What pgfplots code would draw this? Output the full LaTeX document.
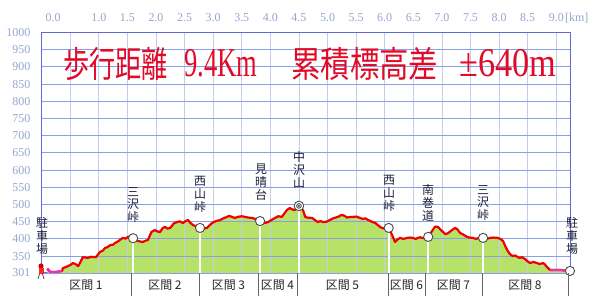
\documentclass[border=0pt]{standalone}
\usepackage{graphicx}
\usepackage{pgfplots}
\pgfplotsset{compat=1.18}
\usepackage{fontspec}
\setmainfont{Liberation Serif}
\newfontfamily\jp{Noto Sans CJK JP}
\definecolor{tickc}{RGB}{150,165,210}
\definecolor{hgrid}{RGB}{135,160,230}
\definecolor{vgrid}{RGB}{195,205,232}
\definecolor{framec}{RGB}{95,105,215}
\definecolor{fillg}{RGB}{183,226,106}
\definecolor{profc}{RGB}{240,0,0}
\definecolor{pinkc}{RGB}{240,50,170}
\definecolor{titlec}{RGB}{225,10,40}
\definecolor{labc}{RGB}{30,30,60}

\pgfplotstableread{
km elev
0.10 314
0.15 304
0.25 304
0.36 307
0.37 315
0.42 318
0.50 324
0.55 330
0.60 326
0.64 321
0.68 333
0.72 347
0.81 345
0.86 348
0.95 347
1.02 362
1.07 366
1.11 374
1.15 376
1.20 382
1.25 383
1.28 388
1.33 392
1.37 397
1.42 403
1.47 401
1.51 406
1.55 407
1.60 402
1.68 394
1.77 391
1.82 395
1.86 397
1.92 420
1.98 426
2.02 422
2.07 420
2.12 432
2.16 435
2.20 430
2.25 432
2.31 445
2.37 449
2.42 451
2.47 446
2.52 452
2.56 455
2.60 447
2.65 440
2.70 437
2.77 432
2.84 430
2.89 432
2.94 440
2.98 446
3.05 452
3.12 455
3.18 460
3.24 464
3.28 467
3.33 464
3.38 461
3.43 464
3.50 466
3.56 464
3.62 462
3.68 461
3.74 458
3.82 452
3.90 446
3.96 449
4.02 455
4.08 461
4.14 466
4.20 464
4.25 475
4.29 484
4.34 490
4.38 486
4.43 484
4.46 490
4.50 496
4.57 484
4.61 464
4.65 462
4.73 461
4.78 455
4.83 449
4.88 452
4.92 449
4.98 450
5.04 455
5.10 460
5.18 464
5.25 470
5.30 467
5.34 462
5.39 464
5.44 464
5.50 465
5.57 461
5.62 458
5.66 460
5.71 455
5.75 452
5.79 449
5.84 446
5.88 440
5.91 436
5.95 432
6.00 430
6.07 432
6.13 411
6.18 391
6.22 398
6.27 403
6.33 400
6.39 403
6.44 404
6.49 403
6.54 400
6.58 403
6.62 405
6.65 403
6.70 402
6.76 406
6.84 426
6.88 436
6.93 435
6.97 428
7.02 420
7.06 414
7.11 417
7.17 425
7.23 432
7.27 428
7.32 417
7.36 414
7.44 406
7.48 404
7.54 403
7.60 400
7.66 404
7.72 403
7.78 400
7.84 403
7.90 404
7.98 403
8.02 400
8.07 394
8.10 382
8.14 368
8.19 356
8.24 350
8.28 352
8.33 347
8.36 345
8.40 347
8.45 342
8.49 336
8.54 330
8.60 333
8.66 330
8.71 327
8.77 330
8.80 326
8.84 318
8.89 310
9.06 310
9.24 307
}\proftab

\pgfplotstableread{
km elev
1.60 402
2.77 432
3.82 452
6.07 432
6.76 406
7.72 403
9.24 307
}\markstab

\begin{document}
\begin{tikzpicture}
\useasboundingbox (0bp,0bp) rectangle (600bp,296bp);
\fill[white] (0bp,0bp) rectangle (600bp,296bp);
\begin{axis}[
  at={(41.6bp,23bp)}, anchor=south west,
  scale only axis, width=528.4bp, height=240.5bp,
  xmin=0, xmax=9.24, ymin=301, ymax=1000,
  xtick={0,0.5,...,9},
  xticklabels={{},{},1.0,1.5,2.0,2.5,3.0,3.5,4.0,4.5,5.0,5.5,6.0,6.5,7.0,7.5,8.0,8.5,9.0},
  extra x ticks={0.2}, extra x tick labels={0.0},
  extra x tick style={grid=none, major tick length=0pt},
  ytick={301,350,400,450,500,550,600,650,700,750,800,850,900,950,1000},
  yticklabels={301,350,400,450,500,550,600,650,700,750,800,850,900,950,1000},
  xticklabel pos=upper,
  major tick length=0pt,
  xmajorgrids, ymajorgrids,
  x grid style={vgrid, line width=0.8bp},
  y grid style={hgrid, line width=0.9bp},
  axis line style={framec, line width=1bp},
  xticklabel style={font=\fontsize{12}{12}\selectfont, text=tickc, inner sep=0pt, anchor=base, yshift=10.5bp},
  yticklabel style={font=\fontsize{12}{12}\selectfont, text=tickc, inner sep=0pt, anchor=east, xshift=-11bp},
]
\addplot[fill=fillg, draw=none] table[x=km,y=elev]{\proftab} \closedcycle;
% grid lines redrawn over the filled area
\addplot[ycomb, vgrid, line width=0.8bp] coordinates {(0.5,500)(1.0,500)(1.5,500)(2.0,500)(2.5,500)(3.0,500)(3.5,500)(4.0,500)(4.5,500)(5.0,500)(5.5,500)(6.0,500)(6.5,500)(7.0,500)(7.5,500)(8.0,500)(8.5,500)(9.0,500)};
\addplot[xcomb, hgrid, line width=0.9bp] coordinates {(9.24,350)(9.24,400)(9.24,450)};
\addplot[ycomb, white, line width=1.8bp] table[x=km,y=elev]{\markstab};
\addplot[ycomb, white, line width=1.8bp] coordinates {(4.50,496)};
\addplot[profc, line width=2.2bp, line join=round] table[x=km,y=elev]{\proftab};
\addplot[pinkc, line width=2.2bp, line join=round] coordinates {(0.10,314)(0.15,304)(0.25,304)(0.36,307)};
\addplot[pinkc, line width=2.2bp, line join=round] coordinates {(8.89,310)(9.06,310)(9.24,307)};
\addplot[only marks, mark=*, mark size=4.6bp, mark options={fill=white, draw=black!70, line width=0.9bp}] table[x=km,y=elev]{\markstab};
\addplot[only marks, mark=*, mark size=4.8bp, mark options={fill=white, draw=black!70, line width=0.9bp}] coordinates {(4.50,496)};
\addplot[only marks, mark=*, mark size=2.3bp, mark options={fill=white, draw=black!70, line width=0.9bp}] coordinates {(4.50,496)};
\addplot[only marks, mark=*, mark size=0.8bp, mark options={fill=black!70, draw=black!70}] coordinates {(4.50,496)};
\end{axis}
% km unit
\node[anchor=base west, text=tickc, inner sep=0pt, font=\fontsize{12}{12}\selectfont] at (565bp,274bp) {[km]};
% title
\tikzset{tpart/.style={anchor=west, text=titlec, inner sep=0pt}}
\node[tpart] at (63bp,232.5bp) {\scalebox{0.73}[1]{\fontsize{36}{36}\selectfont\jp 歩行距離}};
\node[tpart] at (184bp,232.5bp) {\scalebox{0.65}[1]{\fontsize{41}{41}\selectfont 9.4Km}};
\node[tpart] at (291bp,232.5bp) {\scalebox{0.82}[1]{\fontsize{36}{36}\selectfont\jp 累積標高差}};
\node[tpart] at (459bp,232.5bp) {\scalebox{0.84}[1]{\fontsize{41}{41}\selectfont ±640m}};
% vertical labels
\tikzset{vlab/.style={text=labc, align=center, inner sep=0pt, font=\jp\fontsize{12}{13}\selectfont}}
\node[vlab] at (42bp,60bp) {駐\\車\\場};
\node[vlab] at (133bp,91bp) {三\\沢\\峠};
\node[vlab] at (200bp,102bp) {西\\山\\峠};
\node[vlab] at (261bp,114bp) {見\\晴\\台};
\node[vlab] at (299bp,126bp) {中\\沢\\山};
\node[vlab] at (389bp,103bp) {西\\山\\峠};
\node[vlab] at (428bp,93bp) {南\\巻\\道};
\node[vlab] at (483bp,93bp) {三\\沢\\峠};
\node[vlab] at (572bp,60bp) {駐\\車\\場};
% section band
\foreach \xx in {131,199,258,297,388,425,482,568} {
  \draw[black!60, line width=1bp] (\xx bp,0bp) -- (\xx bp,23bp);
}
\tikzset{slab/.style={text=black!85, inner sep=0pt, font=\jp\fontsize{12}{12}\selectfont}}
\node[slab] at (86bp,11bp) {区間 1};
\node[slab] at (165bp,11bp) {区間 2};
\node[slab] at (228.5bp,11bp) {区間 3};
\node[slab] at (277.5bp,11bp) {区間 4};
\node[slab] at (342.5bp,11bp) {区間 5};
\node[slab] at (406.5bp,11bp) {区間 6};
\node[slab] at (453.5bp,11bp) {区間 7};
\node[slab] at (525bp,11bp) {区間 8};
% walker icon
\fill[red!80!black] (41bp,30bp) circle (2.6bp);
\fill[red!85] (38.5bp,22bp) rectangle (43.5bp,28bp);
\draw[black!70, line width=0.8bp] (39.5bp,22bp) -- (38bp,17bp) (42.5bp,22bp) -- (44bp,17bp);
\end{tikzpicture}
\end{document}
